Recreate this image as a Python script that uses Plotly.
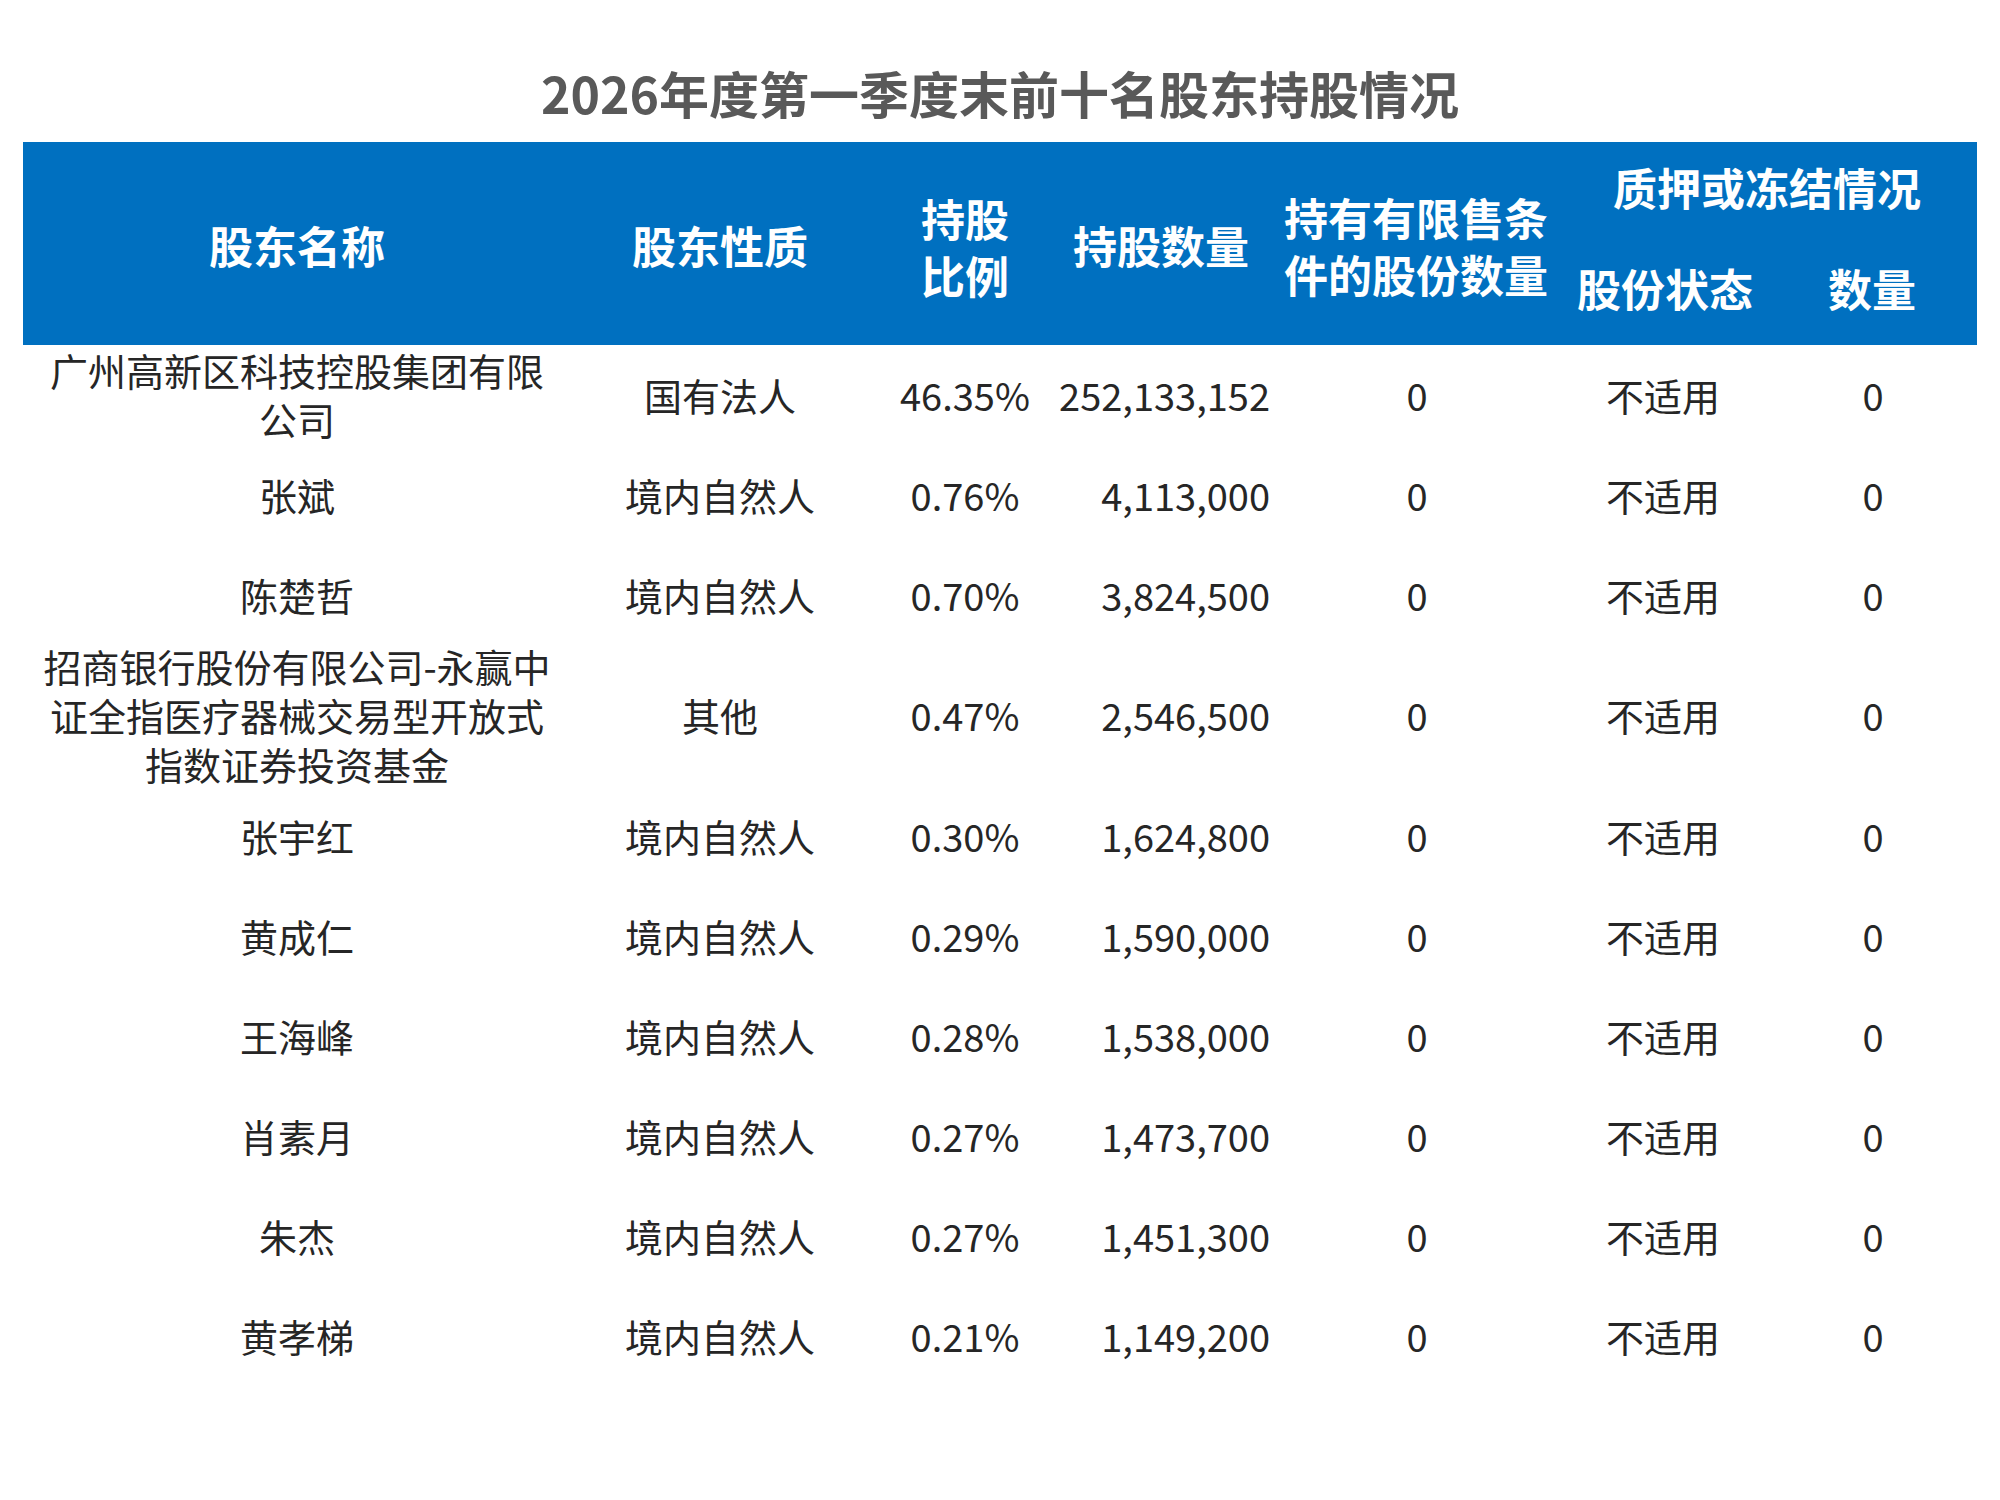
import plotly.graph_objects as go

# 数据：前十名股东
names = [
    "广州高新区科技控股集团有限公司",
    "张斌",
    "陈楚哲",
    "招商银行股份有限公司-永赢中证全指医疗器械交易型开放式指数证券投资基金",
    "张宇红",
    "黄成仁",
    "王海峰",
    "肖素月",
    "朱杰",
    "黄孝梯",
]
natures = ["国有法人", "境内自然人", "境内自然人", "其他", "境内自然人",
           "境内自然人", "境内自然人", "境内自然人", "境内自然人", "境内自然人"]
ratios = [46.35, 0.76, 0.70, 0.47, 0.30, 0.29, 0.28, 0.27, 0.27, 0.21]
shares = [252133152, 4113000, 3824500, 2546500, 1624800,
          1590000, 1538000, 1473700, 1451300, 1149200]
restricted = [0, 0, 0, 0, 0, 0, 0, 0, 0, 0]
pledge_status = ["不适用"] * 10
pledge_qty = [0, 0, 0, 0, 0, 0, 0, 0, 0, 0]

title = "2026年度第一季度末前十名股东持股情况"

# 表头 (文字, x, y)
header_cells = [
    ("股东名称", 297, 245),
    ("股东性质", 720, 245),
    ("持股<br>比例", 965, 246),
    ("持股数量", 1161, 245),
    ("持有有限售条<br>件的股份数量", 1416, 245),
    ("质押或冻结情况", 1767, 187),
    ("股份状态", 1665, 288),
    ("数量", 1872, 288),
]

# 版式
W, H = 2000, 1500
OFF = 8  # 页面 body 默认边距
BLUE = "#0070C0"
TEXT = "#262626"
FONT = "Noto Sans CJK SC"
BODY_SIZE = 38
col_x = {"name": 297, "nature": 720, "ratio": 965, "shares": 1270,
         "restricted": 1417, "status": 1663, "qty": 1873}


def wrap(s, limit=13.5):
    # 按字宽折行：中文1，英文符号0.5
    lines, cur, w = [], "", 0
    for ch in s:
        cw = 0.5 if ord(ch) < 128 else 1
        if w + cw > limit:
            lines.append(cur)
            cur, w = "", 0
        cur += ch
        w += cw
    lines.append(cur)
    return lines


name_lines = [wrap(n) for n in names]
row_h = [max(100, 47 * len(l)) for l in name_lines]
row_y = []
top = 351
for h in row_h:
    row_y.append(top + h / 2)
    top += h

fig = go.Figure()

body_font = dict(family=FONT, size=BODY_SIZE, color=TEXT)

fig.add_trace(go.Scatter(x=[col_x["name"]] * len(names), y=row_y,
                         text=["<br>".join(l) for l in name_lines],
                         mode="text", textposition="middle center",
                         textfont=body_font, hoverinfo="skip"))

columns = [
    ("nature", natures, "middle center"),
    ("ratio", [f"{r:.2f}%" for r in ratios], "middle center"),
    ("shares", [f"{v:,}" for v in shares], "middle left"),
    ("restricted", [str(v) for v in restricted], "middle center"),
    ("status", pledge_status, "middle center"),
    ("qty", [str(v) for v in pledge_qty], "middle center"),
]
for key, vals, pos in columns:
    fig.add_trace(go.Scatter(x=[col_x[key]] * len(vals), y=row_y, text=vals,
                             mode="text", textposition=pos,
                             textfont=body_font, hoverinfo="skip"))

annotations = [dict(x=x, y=y, text=t, xref="x", yref="y", showarrow=False,
                    xanchor="center", yanchor="middle",
                    font=dict(family=FONT, size=44, color="white", weight="bold"))
               for t, x, y in header_cells]
annotations.append(dict(x=1000, y=92, text=title, xref="x", yref="y",
                        showarrow=False, xanchor="center", yanchor="middle",
                        font=dict(family=FONT, size=50, color="#595959", weight="bold")))

fig.update_layout(
    width=W, height=H,
    margin=dict(l=0, r=0, t=0, b=0),
    paper_bgcolor="white", plot_bgcolor="white",
    showlegend=False,
    xaxis=dict(range=[OFF, W + OFF], visible=False, fixedrange=True),
    yaxis=dict(range=[H + OFF, OFF], visible=False, fixedrange=True),
    shapes=[dict(type="rect", xref="x", yref="y", x0=23, x1=1977, y0=142, y1=345,
                 fillcolor=BLUE, line=dict(width=0), layer="below")],
    annotations=annotations,
)

fig.write_html("out.html")
